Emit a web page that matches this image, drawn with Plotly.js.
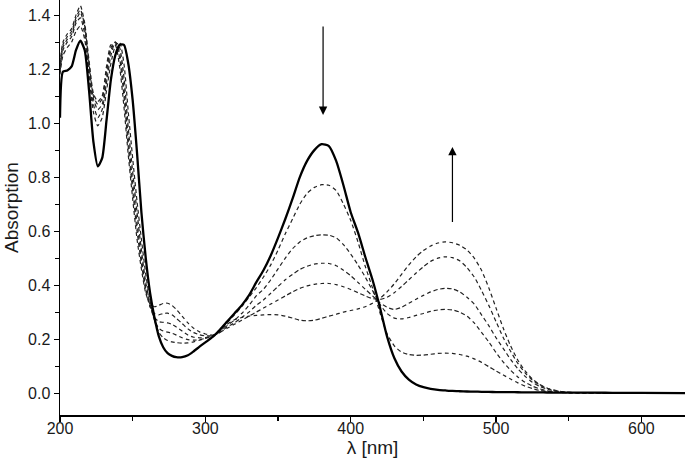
<!DOCTYPE html>
<html>
<head>
<meta charset="utf-8">
<script src="https://cdn.plot.ly/plotly-3.0.1.min.js"></script>
<style>html,body{margin:0;padding:0;background:#fff}#chart{width:685px;height:459px}</style>
</head>
<body>
<div id="chart"></div>
<script>
// wavelength grid (nm)
const wavelength = [200,202,205,208,211,214,217,220,223,226,229,232,235,238,241,244,247,250,253,256,259,262,265,268,271,274,277,280,284,288,292,296,300,305,
 310,315,320,325,330,335,340,345,350,355,360,365,370,375,380,385,390,395,400,405,410,415,420,425,430,435,440,445,450,455,460,465,470,475,480,485,490,495,500,505,510,515,520,525,530,535,540,545,550,560,570,580,600,630];

// initial spectrum (solid)
const spectrum0 = [1.02,1.19,1.195,1.21,1.27,1.305,1.27,1.12,0.93,0.84,0.87,1.01,1.16,1.25,1.29,1.29,1.22,1.085,0.89,0.67,0.50,0.37,0.28,0.21,0.17,0.148,0.138,0.133,0.133,0.14,0.155,0.172,0.188,0.208,
 0.235,0.265,0.295,0.325,0.362,0.41,0.455,0.51,0.575,0.645,0.72,0.80,0.86,0.90,0.922,0.915,0.86,0.77,0.67,0.595,0.505,0.42,0.32,0.21,0.13,0.08,0.05,0.032,0.022,0.016,0.012,0.010,0.008,0.007,0.006,0.0055,0.005,0.0045,0.004,0.0038,0.0035,0.0033,0.003,0.0028,0.0026,0.0024,0.0022,0.0021,0.002,0.0017,0.0015,0.0013,0.001,0.0];

// subsequent spectra (dashed)
const spectrum1 = [1.18,1.25,1.28,1.30,1.34,1.36,1.31,1.17,1.04,0.99,1.02,1.12,1.22,1.285,1.30,1.22,1.04,0.87,0.71,0.57,0.44,0.34,0.27,0.225,0.205,0.195,0.19,0.187,0.185,0.186,0.19,0.196,0.203,0.212,
 0.235,0.26,0.29,0.32,0.355,0.39,0.43,0.475,0.53,0.59,0.645,0.70,0.74,0.762,0.772,0.77,0.75,0.70,0.64,0.56,0.47,0.39,0.30,0.22,0.175,0.152,0.143,0.14,0.141,0.144,0.147,0.148,0.147,0.143,0.137,0.127,0.114,0.098,0.082,0.067,0.052,0.038,0.026,0.017,0.010,0.006,0.004,0.002,0.001,0.0005,0.0003,0.0002,0.0001,0.0];
const spectrum2 = [1.19,1.27,1.30,1.32,1.37,1.39,1.33,1.19,1.07,1.02,1.05,1.15,1.25,1.30,1.28,1.17,0.98,0.82,0.67,0.53,0.41,0.33,0.27,0.24,0.23,0.226,0.222,0.215,0.205,0.198,0.196,0.198,0.203,0.212,
 0.23,0.25,0.27,0.295,0.325,0.36,0.385,0.42,0.46,0.50,0.535,0.56,0.575,0.583,0.586,0.585,0.575,0.55,0.515,0.475,0.43,0.38,0.33,0.295,0.278,0.275,0.28,0.288,0.295,0.303,0.308,0.31,0.308,0.30,0.285,0.26,0.225,0.19,0.15,0.115,0.085,0.06,0.04,0.026,0.016,0.009,0.005,0.003,0.002,0.001,0.0005,0.0003,0.0001,0.0];
const spectrum3 = [1.20,1.28,1.31,1.33,1.38,1.41,1.35,1.21,1.09,1.05,1.07,1.17,1.27,1.30,1.26,1.13,0.94,0.78,0.63,0.50,0.39,0.32,0.28,0.265,0.262,0.26,0.255,0.245,0.23,0.215,0.207,0.205,0.206,0.212,
 0.225,0.245,0.26,0.28,0.30,0.325,0.345,0.37,0.395,0.42,0.44,0.458,0.47,0.478,0.481,0.48,0.472,0.455,0.435,0.41,0.385,0.36,0.335,0.318,0.31,0.318,0.333,0.348,0.362,0.375,0.384,0.388,0.386,0.375,0.355,0.33,0.29,0.25,0.205,0.165,0.125,0.09,0.062,0.04,0.025,0.015,0.009,0.005,0.002,0.001,0.0005,0.0003,0.0001,0.0];
const spectrum4 = [1.21,1.29,1.32,1.34,1.39,1.42,1.36,1.22,1.10,1.07,1.09,1.19,1.28,1.30,1.24,1.10,0.91,0.75,0.60,0.48,0.38,0.32,0.295,0.29,0.295,0.296,0.29,0.277,0.258,0.238,0.224,0.216,0.212,0.213,
 0.225,0.24,0.255,0.27,0.285,0.30,0.315,0.33,0.345,0.36,0.375,0.388,0.397,0.403,0.406,0.406,0.402,0.394,0.384,0.372,0.36,0.35,0.347,0.355,0.372,0.395,0.42,0.445,0.468,0.488,0.50,0.505,0.502,0.49,0.465,0.43,0.38,0.325,0.265,0.205,0.155,0.11,0.075,0.048,0.03,0.018,0.010,0.005,0.003,0.001,0.0005,0.0003,0.0001,0.0];
const spectrum5 = [1.22,1.30,1.33,1.35,1.40,1.435,1.37,1.23,1.11,1.08,1.10,1.21,1.29,1.29,1.21,1.06,0.88,0.72,0.57,0.46,0.37,0.33,0.32,0.325,0.332,0.333,0.325,0.31,0.285,0.26,0.24,0.227,0.219,0.215,
 0.228,0.255,0.272,0.28,0.285,0.288,0.29,0.291,0.29,0.285,0.278,0.27,0.268,0.27,0.277,0.285,0.292,0.30,0.306,0.312,0.32,0.333,0.35,0.375,0.405,0.44,0.475,0.505,0.528,0.545,0.556,0.56,0.557,0.548,0.53,0.50,0.455,0.39,0.315,0.24,0.175,0.122,0.082,0.052,0.032,0.019,0.011,0.006,0.003,0.0015,0.0008,0.0004,0.0002,0.0];

const dashedSeries = [spectrum1, spectrum2, spectrum3, spectrum4, spectrum5];

// arrows (wavelength, start absorbance, end absorbance)
const arrowDown = {x: 381, from: 1.363, to: 1.03};
const arrowUp = {x: 470, from: 0.628, to: 0.912};

const traces = dashedSeries.map(s => ({
  x: wavelength, y: s, type: 'scatter', mode: 'lines',
  line: {color: '#222', width: 1.2, dash: '4px,3px', shape: 'spline', smoothing: 0.6},
  hoverinfo: 'skip'
}));
traces.push({
  x: wavelength, y: spectrum0, type: 'scatter', mode: 'lines',
  line: {color: '#000', width: 2.3, shape: 'spline', smoothing: 0.6},
  hoverinfo: 'skip'
});

const font = {family: '"Liberation Sans", Arial, sans-serif', color: '#1a1a1a'};

const layout = {
  width: 685, height: 459,
  margin: {l: 60, r: 0, t: 0, b: 44},
  paper_bgcolor: '#fff', plot_bgcolor: '#fff',
  showlegend: false,
  font: Object.assign({size: 16}, font),
  xaxis: {
    range: [200, 630], tick0: 200, dtick: 100,
    showline: true, linecolor: '#000', linewidth: 1.5,
    ticks: 'outside', ticklen: 5, tickwidth: 1.2, tickcolor: '#000',
    minor: {dtick: 50, ticks: 'outside', ticklen: 4, tickwidth: 1.2, tickcolor: '#000'},
    showgrid: false, zeroline: false,
    tickfont: Object.assign({size: 16}, font),
    ticklabelstandoff: -7,
    title: {text: 'λ [nm]', font: Object.assign({size: 19}, font), standoff: 2}
  },
  yaxis: {
    range: [-0.081, 1.456], tick0: 0, dtick: 0.2, tickformat: '.1f',
    showline: true, linecolor: '#000', linewidth: 1.5,
    ticks: 'outside', ticklen: 5, tickwidth: 1.2, tickcolor: '#000',
    minor: {dtick: 0.1, ticks: 'outside', ticklen: 4, tickwidth: 1.2, tickcolor: '#000'},
    showgrid: false, zeroline: false,
    tickfont: Object.assign({size: 16}, font),
    title: {text: 'Absorption', font: Object.assign({size: 19}, font), standoff: 4}
  },
  annotations: [arrowDown, arrowUp].map(a => ({
    x: a.x, y: a.to, ax: a.x, ay: a.from, xref: 'x', yref: 'y', axref: 'x', ayref: 'y',
    text: '', showarrow: true, arrowhead: 2, arrowsize: 1.4, arrowwidth: 1.2, arrowcolor: '#000'
  }))
};

Plotly.newPlot('chart', traces, layout, {staticPlot: true, displayModeBar: false});
</script>
</body>
</html>
